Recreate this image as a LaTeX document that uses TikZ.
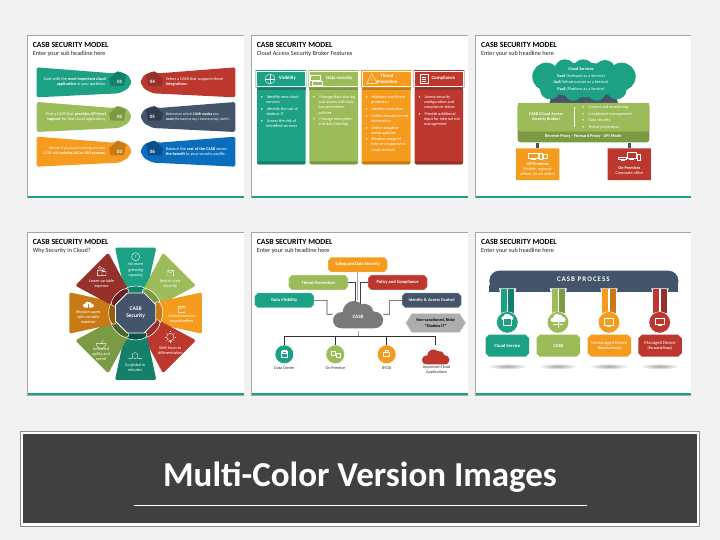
\documentclass[tikz,border=0pt]{standalone}
\usepackage{fontspec}
\setmainfont{Carlito}
\newfontfamily\spacedfont[LetterSpace=14]{Carlito}
\usetikzlibrary{shapes.misc,shapes.geometric}
\definecolor{cTeal}{HTML}{1DA185}
\definecolor{cGreen}{HTML}{9CBB59}
\definecolor{cOrange}{HTML}{F59C1E}
\definecolor{cRed}{HTML}{BC382F}
\definecolor{cSlate}{HTML}{44546A}
\definecolor{cBlue}{HTML}{0A6EBD}
\definecolor{dTeal}{HTML}{14806A}
\definecolor{dGreen}{HTML}{7A9A44}
\definecolor{dOrange}{HTML}{C97A14}
\definecolor{dRed}{HTML}{96302A}
\definecolor{dSlate}{HTML}{2F3D50}
\definecolor{dBlue}{HTML}{0A4F8C}
\newcommand\ftxt{\fontsize{4.2}{5.1}\selectfont}
\tikzset{
  zz/.style 2 args={shift={(#1,#2)},x=0.33333pt,y=-0.33333pt},
  titletxt/.style={anchor=west,inner sep=0,font=\fontsize{7.8}{9}\selectfont\bfseries,text=black},
  subtxt/.style={anchor=west,inner sep=0,font=\fontsize{6.2}{7}\selectfont,text=black!85},
  wtxt/.style={inner sep=0,text=white,font=\ftxt},
  ktxt/.style={inner sep=0,text=black!80,font=\ftxt},
  btxt/.style={inner sep=0,text=white,font=\ftxt\bfseries},
  bullets/.style={anchor=north west,inner sep=0,align=left,text=white,font=\ftxt},
  wline/.style={draw=white,line width=0.35pt},
  chead/.style={chamfered rectangle,chamfered rectangle xsep=1.8pt,chamfered rectangle ysep=1.8pt,
    minimum width=50.6pt,minimum height=17.3pt,inner sep=0,fill=#1},
  cring/.style={chamfered rectangle,chamfered rectangle xsep=1.5pt,chamfered rectangle ysep=1.5pt,
    minimum width=48.8pt,minimum height=15.6pt,inner sep=0,draw=white,line width=0.3pt},
  lbox/.style={chamfered rectangle,chamfered rectangle xsep=1.5pt,chamfered rectangle ysep=1.5pt,
    minimum width=59pt,minimum height=14.6pt,inner sep=0,fill=#1,draw=#1!60,line width=0.4pt,
    text=white,font=\fontsize{4.5}{5.4}\selectfont\bfseries},
  pbox/.style={chamfered rectangle,chamfered rectangle xsep=1.8pt,chamfered rectangle ysep=1.8pt,
    minimum width=43.5pt,minimum height=22pt,inner sep=0,fill=#1,align=center,
    text=white,font=\fontsize{4.6}{5.6}\selectfont},
  dot/.style={circle,inner sep=0,minimum size=9.4pt,fill=#1,draw=white,line width=0.4pt},
  iconcloud/.pic={
    \fill[pic actions] (-48,35) .. controls (-84,35) and (-84,-14) .. (-46,-14)
      .. controls (-44,-42) and (-12,-58) .. (10,-38)
      .. controls (26,-42) and (44,-32) .. (46,-16)
      .. controls (86,-14) and (84,35) .. (48,35) -- cycle;
  }
}
\newcommand\panelbg[4]{%
  \fill[gray!70] (#1-2,#2-2) rectangle (#3+1,#4+2);
  \fill[white] (#1,#2) rectangle (#3,#4);
  \fill[cTeal] (#1,#4-5) rectangle (#3,#4);
}
\newcommand\bannershape[2]{%
  \fill[#1,rounded corners=1.6pt] (50,112) -- (280,130) -- (297,124) -- (324,135) -- (335,156) -- (323,177) -- (297,190) -- (50,202) -- cycle;
  \fill[#2] (267,147) -- (292,124) -- (318,134) -- (312,168) -- (272,168) -- cycle;
}
\newcommand\monicon[4]{% x y w h
  \draw[wline] (#1-#3/2,#2-#4/2) rectangle (#1+#3/2,#2+#4/2);
  \draw[wline] (#1-#3/4,#2+#4/2+3) -- (#1+#3/4,#2+#4/2+3);
}
\begin{document}
\begin{tikzpicture}[x=1pt,y=-1pt]
\useasboundingbox (0,0) rectangle (720,540);
\fill[black!5] (0,0) rectangle (720,540);

%% ---------- panel 1
\begin{scope}[zz={20}{30}]
\panelbg{24}{17}{672}{503}
\node[titletxt] (a1) at (38,44) {CASB SECURITY MODEL};
\node[subtxt] (a2) at (38,72) {Enter your sub headline here};
\begin{scope}\bannershape{cTeal}{dTeal}\end{scope}
\begin{scope}[shift={(0,104)}]\bannershape{cGreen}{dGreen}\end{scope}
\begin{scope}[shift={(0,208)}]\bannershape{cOrange}{dOrange}\end{scope}
\begin{scope}[shift={(696,0)},xscale=-1]\bannershape{cRed}{dRed}\end{scope}
\begin{scope}[shift={(696,104)},xscale=-1]\bannershape{cSlate}{dSlate}\end{scope}
\begin{scope}[shift={(696,208)},xscale=-1]\bannershape{cBlue}{dBlue}\end{scope}
\node[btxt,font=\fontsize{5}{6}\selectfont\bfseries] (n1) at (299,157) {01};
\node[btxt,font=\fontsize{5}{6}\selectfont\bfseries] (n2) at (299,261) {02};
\node[btxt,font=\fontsize{5}{6}\selectfont\bfseries] (n3) at (299,365) {03};
\node[btxt,font=\fontsize{5}{6}\selectfont\bfseries] (n4) at (397,157) {04};
\node[btxt,font=\fontsize{5}{6}\selectfont\bfseries] (n5) at (397,261) {05};
\node[btxt,font=\fontsize{5}{6}\selectfont\bfseries] (n6) at (397,365) {06};
\node[wtxt,anchor=east,align=right] (t1) at (258,156) {Start with the \textbf{most important cloud}\\\textbf{application} in your portfolio.};
\node[wtxt,anchor=east,align=right] (t2) at (258,261) {Find a CASB that \textbf{provides API level}\\\textbf{support} for that cloud application.};
\node[wtxt,anchor=east,align=right,font=\fontsize{3.9}{5.1}\selectfont] (t3) at (258,364) {Decide if you want to integrate your\\CASB with \textbf{existing IAG or SSO systems}.};
\node[wtxt,anchor=west,align=left] (t4) at (437,156) {Select a CASB that supports those\\\textbf{integrations.}};
\node[wtxt,anchor=west,align=left,font=\fontsize{3.75}{5.1}\selectfont] (t5) at (437,260) {Determine which \textbf{CASB modes} you\\\textbf{need} (forward proxy, reverse proxy, both).};
\node[wtxt,anchor=west,align=left] (t6) at (437,365) {Balance the \textbf{cost of the CASB} versus\\\textbf{the benefit} to your security profile.};
\end{scope}

%% ---------- panel 2
\begin{scope}[zz={245}{30}]
\panelbg{20}{17}{668}{503}
\node[titletxt] (b1) at (35,44) {CASB SECURITY MODEL};
\node[subtxt] (b2) at (35,72) {Cloud Access Security Broker Features};
\foreach \xa/\xb/\cc/\dd in {36/182/cTeal/dTeal,193/339/cGreen/dGreen,350/497/cOrange/dOrange,509/654/cRed/dRed}{
  \fill[\cc,rounded corners=1.5pt] (\xa,172) rectangle (\xb,403);
  \fill[\dd] (\xa,172) rectangle (\xb,180);
  \fill[\dd,rounded corners=1.5pt] (\xa,394) rectangle (\xb,403);
}
\node[chead=cTeal] (h1) at (108,146) {};
\node[chead=cGreen] (h2) at (266,146) {};
\node[chead=cOrange] (h3) at (424,146) {};
\node[chead=cRed] (h4) at (582,146) {};
\node[cring] (r1) at (108,146) {};
\node[cring] (r2) at (266,146) {};
\node[cring] (r3) at (424,146) {};
\node[cring] (r4) at (582,146) {};
\node[btxt,font=\fontsize{4.8}{5.6}\selectfont\bfseries] (h1t) at (127,146) {Visibility};
\node[btxt,font=\fontsize{4.8}{5.6}\selectfont\bfseries] (h2t) at (283,146) {Data security};
\node[btxt,font=\fontsize{4.8}{5.6}\selectfont\bfseries,align=center] (h3t) at (426,146) {Threat\\Protection};
\node[btxt,font=\fontsize{4.8}{5.6}\selectfont\bfseries] (h4t) at (595,146) {Compliance};
% header icons
\draw[wline] (75,147) circle (15);
\draw[wline] (60,147) -- (90,147) (75,132) -- (75,162);
\draw[wline] (197,135) rectangle (225,150);
\draw[wline] (203,155) rectangle (232,165);
\draw[wline] (380,131) -- (397,160) -- (365,160) -- cycle;
\node[btxt,font=\fontsize{4}{5}\selectfont\bfseries] (h3i) at (380,150) {!};
\draw[wline] (525,134) rectangle (549,160);
\draw[wline] (530,142) -- (544,142) (530,148) -- (544,148) (530,154) -- (544,154);
\node[bullets] (c1) at (47,197) {\textbullet\hspace{4pt}Identify new cloud\\\hspace*{5.5pt}services\\[1.6pt]\textbullet\hspace{4pt}Identify the use of\\\hspace*{5.5pt}shadow IT\\[1.6pt]\textbullet\hspace{4pt}Assess the risk of\\\hspace*{5.5pt}identified services};
\node[bullets] (c2) at (204,197) {\textbullet\hspace{4pt}Manage data sharing\\\hspace*{5.5pt}and access with data\\\hspace*{5.5pt}loss prevention\\\hspace*{5.5pt}policies\\[1.6pt]\textbullet\hspace{4pt}Manage encryption\\\hspace*{5.5pt}and data labeling};
\node[bullets] (c3) at (361,197) {\textbullet\hspace{4pt}Malware and threat\\\hspace*{5.5pt}protection\\[1.6pt]\textbullet\hspace{4pt}Identify anomalies\\[1.6pt]\textbullet\hspace{4pt}Collect security event\\\hspace*{5.5pt}information\\[1.6pt]\textbullet\hspace{4pt}Define adaptive\\\hspace*{5.5pt}access policies\\[1.6pt]\textbullet\hspace{4pt}Disallow usage of\\\hspace*{5.5pt}risky or unapproved\\\hspace*{5.5pt}cloud services};
\node[bullets] (c4) at (520,197) {\textbullet\hspace{4pt}Assess security\\\hspace*{5.5pt}configuration and\\\hspace*{5.5pt}compliance status\\[1.6pt]\textbullet\hspace{4pt}Provide additional\\\hspace*{5.5pt}input for internal risk\\\hspace*{5.5pt}management};
\end{scope}

%% ---------- panel 3
\begin{scope}[zz={470}{30}]
\panelbg{17}{17}{663}{503}
\node[titletxt] (d1) at (33,44) {CASB SECURITY MODEL};
\node[subtxt] (d2) at (33,72) {Enter your sub headline here};
\fill[cSlate] (237,222) -- (248,190) -- (435,190) -- (445,222) -- cycle;
\fill[cTeal] (340,150) ellipse [x radius=130,y radius=52]
  (229,140) circle (42) (285,120) circle (32) (340,120) circle (32) (405,122) circle (32)
  (455,140) circle (42) (440,178) circle (30) (380,185) circle (27) (310,185) circle (27) (240,178) circle (30);
\node[btxt] (d3) at (333,117) {Cloud Services};
\node[wtxt] (d4) at (333,138) {\textbf{SaaS} (Software as a Service)};
\node[wtxt] (d5) at (333,158) {\textbf{IaaS} (Infrastructure as a Service)};
\node[wtxt] (d6) at (333,178) {\textbf{PaaS} (Platform as a Service)};
\node[fill=dGreen,rounded corners=3pt,minimum width=131.7pt,minimum height=39.3pt,inner sep=0] (block) at (340.5,278) {};
\fill[cGreen,rounded corners=3pt] (143,219) -- (538,219) -- (538,305) -- (143,305) -- cycle;
\fill[cGreen] (143,219) rectangle (538,235);
\node[btxt,align=center] (d7) at (228,261) {CASB (Cloud Access\\Security Broker)};
\draw[white,line width=0.4pt] (314,232) -- (314,290);
\node[bullets,anchor=west] (d8) at (336,262) {\textbullet\hspace{4pt}Control and monitoring\\[1.55pt]\textbullet\hspace{4pt}Compliance management\\[1.55pt]\textbullet\hspace{4pt}Data security\\[1.55pt]\textbullet\hspace{4pt}Threat prevention};
\node[btxt,font=\fontsize{4.4}{5}\selectfont\bfseries] (d9) at (340,320) {Reverse Proxy - Forward Proxy - API Mode};
\node[chamfered rectangle,chamfered rectangle corners={north east,south west},chamfered rectangle xsep=3pt,chamfered rectangle ysep=3pt,minimum width=43.3pt,minimum height=31.7pt,inner sep=0,fill=cOrange] (off) at (203,402.5) {};
\node[chamfered rectangle,chamfered rectangle corners={north east,south west},chamfered rectangle xsep=3pt,chamfered rectangle ysep=3pt,minimum width=43.3pt,minimum height=31.7pt,inner sep=0,fill=cRed] (onp3) at (478,402.5) {};
\draw[cSlate,line width=3pt] (off.north) -- (off.north |- block.south);
\draw[cSlate,line width=3pt] (onp3.north) -- (onp3.north |- block.south);
\monicon{190}{378}{28}{16}
\draw[wline] (208,370) rectangle (218,387);
\draw[wline] (221,372) rectangle (232,386);
\node[btxt] (d10) at (203,402) {Off-Premises};
\node[wtxt,align=center] (d11) at (203,425) {Mobile, regional\\offices, home offices};
\monicon{458}{386}{24}{6}
\monicon{485}{376}{28}{18}
\draw[wline] (501,372) rectangle (511,392);
\node[btxt] (d12) at (478,413) {On-Premises};
\node[wtxt] (d13) at (478,430) {Corporate office};
\end{scope}

%% ---------- panel 4
\begin{scope}[zz={20}{225}]
\panelbg{24}{24}{672}{510}
\node[titletxt] (e1) at (38,50) {CASB SECURITY MODEL};
\node[subtxt] (e2) at (38,79) {Why Security in Cloud?};
\begin{scope}[shift={(347,264)}]
\foreach \ang/\hw/\dist/\cc/\dd in {0/62/196/cTeal/dTeal,-45/70/186/cGreen/dGreen,-90/62/199/cOrange/dOrange,-135/70/186/cRed/dRed,-180/62/201/dTeal/black!30!dTeal,-225/70/186/dGreen/black!35!dGreen,-270/62/199/dOrange/black!25!dOrange,-315/70/186/dRed/black!30!dRed}{
  \begin{scope}[rotate=\ang]
  \fill[\cc,rounded corners=1.6pt] (-\hw,-\dist) -- (\hw,-\dist) -- (32,-60) -- (-32,-60) -- cycle;
  \end{scope}
}
\foreach \ang/\dd in {0/dTeal,-45/dGreen,-90/dOrange,-135/dRed,-180/black!35!dTeal,-225/black!35!dGreen,-270/black!25!dOrange,-315/black!30!dRed}{
  \begin{scope}[rotate=\ang]
  \filldraw[fill=\dd,draw=white,line width=0.55pt] (0,-66) ellipse [x radius=34,y radius=15];
  \end{scope}
}
\end{scope}
\node[regular polygon,regular polygon sides=8,minimum size=43.5pt,inner sep=0,fill=cSlate,draw=white,line width=0.8pt,text=white,align=center,font=\fontsize{5.6}{7.2}\selectfont\bfseries] (hub) at (347,264) {CASB\\Security};
\node[wtxt,align=center] (f1) at (347,135) {No more\\guessing\\capacity};
\node[wtxt,align=center] (f2) at (451,177) {Best in class\\security};
\node[wtxt,align=center] (f3) at (485,281) {Unlock business\\opportunities};
\node[wtxt,align=center] (f4) at (451,378) {Shift focus to\\differentiation};
\node[wtxt,align=center] (f5) at (345,429) {Go global in\\minutes};
\node[wtxt,align=center] (f6) at (243,387) {Increased\\agility and\\speed};
\node[wtxt,align=center] (f7) at (205,278) {Replace capex\\with variable\\expense};
\node[wtxt,align=center] (f8) at (245,177) {Lower variable\\expense};
% petal icons
\draw[wline] (347,95) circle (12);
\node[btxt,font=\fontsize{4.5}{5}\selectfont] (i1) at (347,95) {?};
\draw[wline] (441,137) rectangle (461,153) (445,137) arc (180:0:6);
\draw[wline] (475,245) rectangle (495,262) (479,245) arc (180:20:6);
\draw[wline] (451,336) circle (11) (446,349) -- (456,349);
\foreach \aa in {0,45,...,315}{\draw[wline] (451,336)+(\aa:14) -- +(\aa:17);}
\draw[wline] (345,392) circle (9) (326,400) -- (336,400) (354,400) -- (366,400);
\draw[wline] (228,356) arc (180:0:15) -- cycle (243,356) -- (250,344);
\pic[draw=none,fill=white,scale=0.22] at (205,240) {iconcloud};
\draw[dOrange,line width=0.6pt] (205,248) -- (205,236);
\draw[wline] (240,128) circle (5) (250,134) circle (4) (232,152) rectangle (246,136) (246,152) rectangle (258,140);
\end{scope}

%% ---------- panel 5
\begin{scope}[zz={245}{225}]
\panelbg{20}{24}{668}{510}
\node[titletxt] (g1) at (35,50) {CASB SECURITY MODEL};
\node[subtxt] (g2) at (35,79) {Enter your sub headline here};
\node[lbox=cOrange] (safe) at (338,119) {Safeguard Data Security};
\node[lbox=cGreen] (threat) at (220,172.5) {Threat Prevention};
\node[lbox=cRed] (policy) at (458,172.5) {Policy and Compliance};
\node[lbox=cTeal] (vis) at (118,226) {Data Visibility};
\node[lbox=cSlate,font=\fontsize{4.4}{5}\selectfont\bfseries] (iam) at (560,226) {Identity \& Access Control};
\fill[black!32,draw=black!15,line width=0.5pt] (482,294) -- (500,266) -- (644,266) -- (662,294) -- (644,322) -- (500,322) -- cycle;
\node[ktxt,align=center,text=black,font=\ftxt\bfseries] (risk) at (572,294) {Non-sanctioned, Risky\\"Shadow IT"};
\node[minimum width=49.3pt,minimum height=28.3pt,inner sep=0] (casb) at (339,267.5) {};
\coordinate (tapL) at (331,240);
\coordinate (tapR) at (347,240);
\coordinate (trunk) at (339,333);
\draw[black!35,line width=1pt] (safe.south) -- (safe.south |- casb.north);
\draw[black!75,line width=0.6pt] (threat.east) -| (tapL);
\draw[black!75,line width=0.6pt] (policy.west) -| (tapR);
\draw[black!75,line width=0.6pt] (vis.east) -| (246,268) -- (casb.west);
\draw[black!75,line width=0.6pt] (iam.west) -| (434,268) -- (casb.east);
\pic[fill=black!52] at (339,275) {iconcloud};
\node[btxt,font=\fontsize{5}{6}\selectfont\bfseries] (casbt) at (339,276) {CASB};
\node[dot=cTeal,minimum size=18.7pt] (dc) at (118,388) {};
\node[dot=cGreen,minimum size=18.7pt] (prem) at (271,388) {};
\node[dot=cOrange,minimum size=18.7pt] (byod) at (425,388) {};
\node[minimum width=26pt,minimum height=18pt,inner sep=0] (appr) at (572,389) {};
\pic[fill=cRed,scale=0.55] at (572,399) {iconcloud};
\draw[black!35,line width=1pt] (casb.south) ++(0,8) -- (trunk);
\draw[black!80,line width=0.6pt] (dc.north) |- (trunk);
\draw[black!80,line width=0.6pt] (prem.north) |- (trunk);
\draw[black!80,line width=0.6pt] (byod.north) |- (trunk);
\draw[black!80,line width=0.6pt] (appr.north) |- (trunk);
\draw[wline] (108,380) rectangle (128,396) (112,376) rectangle (124,384);
\draw[wline] (259,378) rectangle (271,392) (275,384) rectangle (287,398);
\draw[wline] (416,382) rectangle (434,394) (421,376) rectangle (429,382);
\node[ktxt] (l1) at (118,428) {Data Center};
\node[ktxt] (l2) at (271,428) {On Premise};
\node[ktxt] (l3) at (425,428) {BYOD};
\node[ktxt,align=center] (l4) at (575,435) {Approved Cloud\\Applications};
\end{scope}

%% ---------- panel 6
\begin{scope}[zz={470}{225}]
\panelbg{17}{24}{663}{510}
\node[titletxt] (m1) at (33,50) {CASB SECURITY MODEL};
\node[subtxt] (m2) at (33,79) {Enter your sub headline here};
\fill[cSlate,rounded corners=10pt] (58,200) -- (58,137) -- (625,137) -- (625,200) -- cycle;
\fill[cSlate] (58,180) rectangle (625,200);
\node[inner sep=0,text=white,font=\spacedfont\fontsize{7}{8}\selectfont\bfseries] (proc) at (340,163) {CASB PROCESS};
\foreach \cx/\cc/\dd in {113/cTeal/dTeal,265/cGreen/dGreen,417/cOrange/dOrange,570/cRed/dRed}{
  \fill[white] (\cx-26,190) -- (\cx+26,190) -- (\cx+22,205) -- (\cx+22,268) -- (\cx-22,268) -- (\cx-22,205) -- cycle;
  \fill[\cc] (\cx-20,192) -- (\cx-2,192) -- (\cx-2,265) -- (\cx-20,265) -- cycle;
  \fill[\dd] (\cx+2,192) -- (\cx+20,192) -- (\cx+20,265) -- (\cx+2,265) -- cycle;
  \shade[inner color=black!35,outer color=white] (\cx-1,424) ellipse [x radius=60,y radius=9];
}
\node[dot=cTeal,minimum size=21.5pt] (s1) at (112,292) {};
\node[dot=cGreen,minimum size=21.5pt] (s2) at (264,292) {};
\node[dot=cOrange,minimum size=21.5pt] (s3) at (417,292) {};
\node[dot=cRed,minimum size=21.5pt] (s4) at (569,292) {};
\pic[fill=white,scale=0.24] at (112,277) {iconcloud};
\draw[wline,fill=cTeal] (99,280) rectangle (124,300);
\pic[fill=white,scale=0.3] at (264,281) {iconcloud};
\draw[wline] (264,290) -- (264,310) (250,298) -- (278,298);
\monicon{417}{290}{28}{20}
\monicon{569}{289}{26}{20}
\node[pbox=cTeal,font=\fontsize{4.6}{5.6}\selectfont\bfseries] (q1) at (112,362) {Cloud Service};
\node[pbox=cGreen,font=\fontsize{4.6}{5.6}\selectfont\bfseries] (q2) at (265,362) {CASB};
\node[pbox=cOrange] (q3) at (418,362) {Unmanaged Device\\{\bfseries\itshape\fontsize{3.7}{4.6}\selectfont(Reverse Proxy)}};
\node[pbox=cRed] (q4) at (570,362) {Managed Device\\{\bfseries\itshape\fontsize{3.7}{4.6}\selectfont(Forward Proxy)}};
\end{scope}

%% ---------- band
\draw[black!45,line width=1pt,fill=white] (20.5,431) rectangle (699.5,526);
\fill[black!75] (23,434) rectangle (697,523);
\node[inner sep=0,anchor=base,text=white,font=\fontsize{35}{40}\selectfont\bfseries] (band) at (360,486) {Multi-Color Version Images};
\coordinate (ruleL) at (133.5,505);
\coordinate (ruleR) at (586.5,505);
\draw[white,line width=0.7pt] (ruleL) -- (ruleR);
\end{tikzpicture}
\end{document}
